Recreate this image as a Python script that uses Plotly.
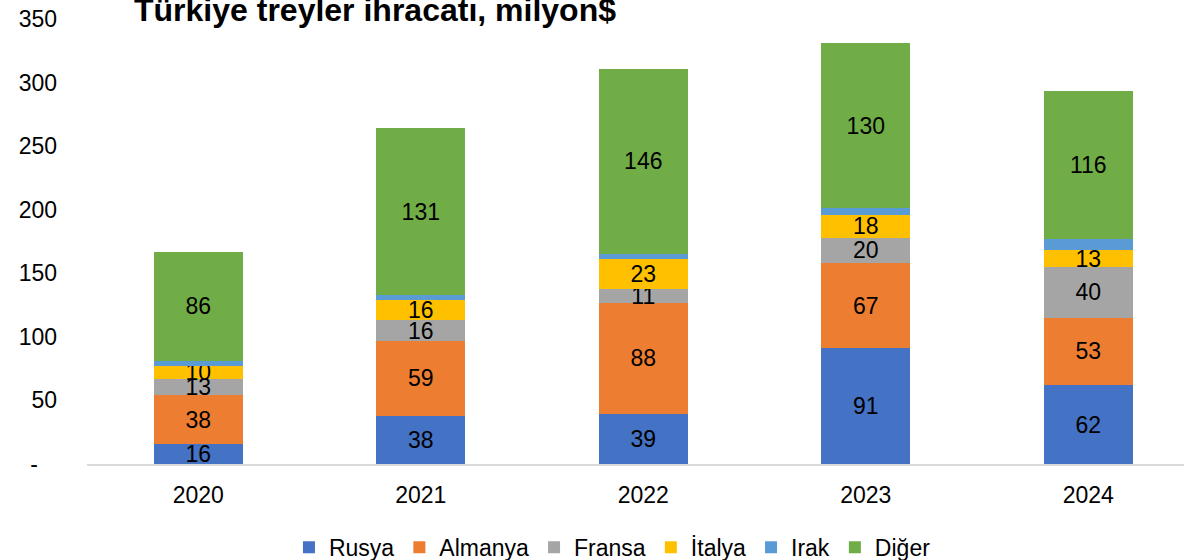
import plotly.graph_objects as go

years = ["2020", "2021", "2022", "2023", "2024"]
rusya = [16, 38, 39, 91, 62]
almanya = [38, 59, 88, 67, 53]
fransa = [13, 16, 11, 20, 40]
italya = [10, 16, 23, 18, 13]
irak = [4, 4, 4, 5, 9]
diger = [86, 131, 146, 130, 116]

series = [
    ("Rusya", rusya, "#4472C4", True),
    ("Almanya", almanya, "#ED7D31", True),
    ("Fransa", fransa, "#A5A5A5", True),
    ("İtalya", italya, "#FFC000", True),
    ("Irak", irak, "#5B9BD5", False),
    ("Diğer", diger, "#70AD47", True),
]

FONT = "Liberation Sans, Arial, sans-serif"
FS = 23
fig = go.Figure()
for name, vals, color, lab in series:
    fig.add_trace(go.Bar(
        x=years, y=vals, name=name,
        marker=dict(color=color, line=dict(width=0)),
        width=0.4,
        text=[str(v) for v in vals] if lab else None,
        textposition="inside" if lab else "none",
        insidetextanchor="middle",
        textangle=0,
        constraintext="none",
        cliponaxis=False,
        textfont=dict(color="black", size=FS, family=FONT),
    ))

fig.update_layout(
    barmode="stack",
    width=1184, height=560,
    margin=dict(l=87, r=0, t=19, b=96, autoexpand=False),
    plot_bgcolor="white", paper_bgcolor="white",
    font=dict(family=FONT, size=FS, color="black"),
    uniformtext=dict(minsize=FS, mode="show"),
    title=dict(text="<b>Türkiye treyler ihracatı, milyon$</b>", x=134/1184, xanchor="left",
               y=1 - 10/560, yanchor="middle", font=dict(size=32, family=FONT, color="black")),
    legend=dict(orientation="h", x=0.479, xanchor="center", y=-0.187, yanchor="middle",
                font=dict(size=FS, family=FONT), itemwidth=30, traceorder="normal",
                tracegroupgap=0),
    showlegend=True,
)
fig.update_xaxes(range=[-0.5, 4.43], showline=True, linecolor="#D9D9D9", linewidth=1.5,
                 showgrid=False, ticks="", ticklabelstandoff=10, fixedrange=True,
                 automargin=False)
fig.update_yaxes(range=[0, 350], tickvals=[0, 50, 100, 150, 200, 250, 300, 350],
                 ticktext=["-   ", "50", "100", "150", "200", "250", "300", "350"],
                 showgrid=False, zeroline=False, showline=False, ticks="",
                 ticklabelstandoff=29, automargin=False)

fig.write_html("out.html", config={"displayModeBar": False},
               post_script="document.body.style.margin='0';")
